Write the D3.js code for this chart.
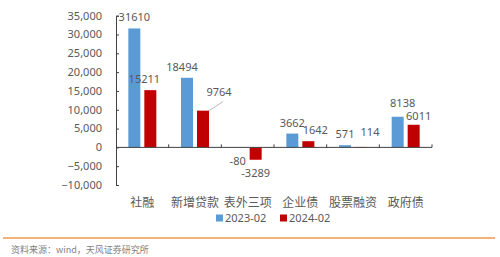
<!DOCTYPE html>
<html>
<head>
  <meta charset="utf-8">
  <title>社融结构</title>
  <script src="https://d3js.org/d3.v7.min.js"></script>
  <style>
    body { margin: 0; background: #fff; }
    text { font-family: "Noto Sans", "Noto Sans CJK SC", sans-serif; fill: #595959; }
  </style>
</head>
<body>
<div id="chart"></div>
<script>
  // data
  var categories = ["社融", "新增贷款", "表外三项", "企业债", "股票融资", "政府债"];
  var seriesNames = ["2023-02", "2024-02"];
  var values2023 = [31610, 18494, -80, 3662, 571, 8138];
  var values2024 = [15211, 9764, -3289, 1642, 114, 6011];
  var yTicks = [-10000, -5000, 0, 5000, 10000, 15000, 20000, 25000, 30000, 35000];
  var colors = ["#5B9BD5", "#C00000"];

  // small hand nudges for the data labels, [dx, dy] per series / category
  var nudge = [
    [[0, 0], [-5, 0], [-2, 2], [0, 0], [0, 0], [5, -3]],
    [[-6, 0], [16, -8], [0, 3], [7, 0], [9, -4], [5, 2]]
  ];

  var width = 500, height = 257;
  var svg = d3.select("#chart").append("svg")
      .attr("width", width)
      .attr("height", height);

  var x = d3.scaleBand()
      .domain(categories)
      .range([116, 432])
      .padding(0);

  var y = d3.scaleLinear()
      .domain([-10000, 35000])
      .range([185, 15.7]);

  var fmt = d3.format(",");

  // y axis
  var yAxis = d3.axisRight(y)
      .tickValues(yTicks)
      .tickSize(3)
      .tickFormat("");
  var gy = svg.append("g")
      .attr("transform", "translate(116,0)")
      .call(yAxis);
  gy.select(".domain").attr("stroke", "#404040");
  gy.selectAll(".tick line").attr("stroke", "#404040");

  svg.append("g").selectAll("text")
    .data(yTicks)
    .enter()
    .append("text")
      .attr("x", 102)
      .attr("y", function (d) { return y(d); })
      .attr("dy", "0.35em")
      .attr("text-anchor", "end")
      .style("font-size", "11px")
      .text(function (d) { return fmt(d); });

  // bars
  var series = [values2023, values2024];
  var barW = 12, gap = 4;

  series.forEach(function (vals, s) {
    var off = s === 0 ? -gap / 2 - barW : gap / 2;
    svg.append("g").selectAll("rect")
      .data(vals)
      .enter()
      .append("rect")
        .attr("x", function (d, i) { return x(categories[i]) + x.bandwidth() / 2 + off; })
        .attr("y", function (d) { return y(Math.max(0, d)); })
        .attr("width", barW)
        .attr("height", function (d) { return Math.abs(y(d) - y(0)); })
        .attr("fill", colors[s]);
  });

  // x axis (ticks pointing up, at category boundaries)
  svg.append("line")
    .attr("x1", 116).attr("x2", 432)
    .attr("y1", y(0)).attr("y2", y(0))
    .attr("stroke", "#404040");
  svg.append("g").selectAll("line")
    .data(categories)
    .enter()
    .append("line")
      .attr("x1", function (d) { return x(d) + x.bandwidth(); })
      .attr("x2", function (d) { return x(d) + x.bandwidth(); })
      .attr("y1", y(0)).attr("y2", y(0) - 3)
      .attr("stroke", "#404040");

  // data labels
  series.forEach(function (vals, s) {
    var off = s === 0 ? -gap / 2 - barW / 2 : gap / 2 + barW / 2;
    svg.append("g").selectAll("text")
      .data(vals)
      .enter()
      .append("text")
        .attr("x", function (d, i) { return x(categories[i]) + x.bandwidth() / 2 + off + nudge[s][i][0]; })
        .attr("y", function (d, i) {
          var base = d >= 0 ? y(d) - 7 : y(d) + 14;
          if (s === 0 && d < 0) base = y(0) + 16;
          return base + nudge[s][i][1];
        })
        .attr("text-anchor", "middle")
        .style("font-size", "11px")
        .text(function (d) { return d; });
  });

  // leader line for 9764
  var li = 1;
  svg.append("line")
    .attr("x1", x(categories[li]) + x.bandwidth() / 2 + gap / 2 + barW)
    .attr("y1", y(values2024[li]))
    .attr("x2", x(categories[li]) + x.bandwidth() / 2 + gap / 2 + barW + 14)
    .attr("y2", y(values2024[li]) - 9)
    .attr("stroke", "#a6a6a6")
    .attr("stroke-width", 0.8);

  // category labels
  svg.append("g").selectAll("text")
    .data(categories)
    .enter()
    .append("text")
      .attr("x", function (d) { return x(d) + x.bandwidth() / 2; })
      .attr("y", 207)
      .attr("text-anchor", "middle")
      .style("font-size", "12px")
      .style("font-family", "'Noto Sans CJK SC', sans-serif")
      .text(function (d) { return d; });

  // legend
  var legend = svg.append("g").attr("transform", "translate(216,218)");
  seriesNames.forEach(function (name, i) {
    var g = legend.append("g").attr("transform", "translate(" + (i * 64) + ",0)");
    g.append("rect")
      .attr("x", 0).attr("y", -3.5)
      .attr("width", 7).attr("height", 7)
      .attr("fill", colors[i]);
    g.append("text")
      .attr("x", 9).attr("y", 0)
      .attr("dy", "0.35em")
      .style("font-size", "11px")
      .text(name);
  });

  // source footer
  svg.append("line")
    .attr("x1", 3).attr("x2", 495)
    .attr("y1", 238).attr("y2", 238)
    .attr("stroke", "#ED9A4C")
    .attr("stroke-width", 1.5);

  svg.append("text")
    .attr("x", 11)
    .attr("y", 253)
    .style("font-size", "9px")
    .style("font-family", "'Noto Sans CJK SC', sans-serif")
    .style("fill", "#7f7f7f")
    .text("资料来源：wind，天风证券研究所");
</script>
</body>
</html>
